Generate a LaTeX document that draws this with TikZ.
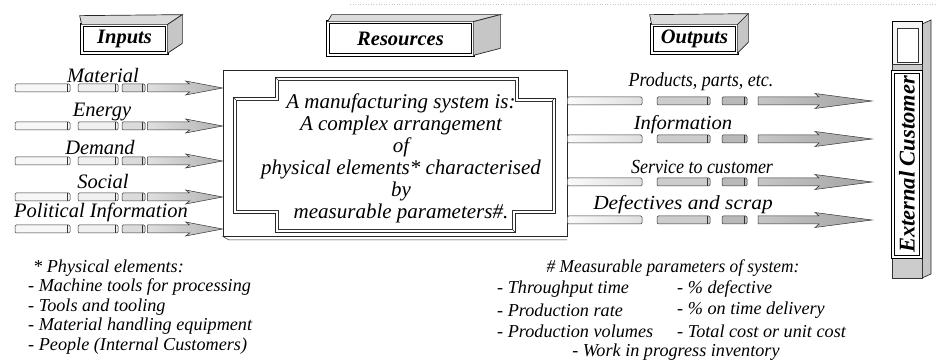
\documentclass[tikz,border=0pt]{standalone}
\usepackage{fontspec}
\setmainfont{Liberation Serif}
\usepackage{graphicx}
\usetikzlibrary{calc}

% one segment of a rod: left x, right x, centre y, fill
\newcommand\rodpiece[4]{%
  \draw[rodline, fill=#4] (#1,#3-4) rectangle (#2,#3+4);
  \draw[capline] (#2-3,#3-4) -- (#2-3,#3+4);
}
% top and right faces of a solid title block
\newcommand\tagsolid[5]{%
  \draw[faceline, fill=gray!28] (#1.north west) -- ++(#2,#3) -- ($(#1.north east)+(#4,#5)$) -- (#1.north east) -- cycle;
  \draw[faceline, fill=gray!45] (#1.north east) -- ++(#4,#5) -- ($(#1.south east)+(#4,#5)$) -- (#1.south east) -- cycle;
}

\begin{document}
\begin{tikzpicture}[x=1pt,y=-1pt,
  faceline/.style={draw=black!85, line width=0.7pt},
  rodline/.style={draw=black!80, line width=0.5pt, rounded corners=1.2pt},
  capline/.style={draw=black!80, line width=0.5pt},
  panelline/.style={draw=black!85, line width=0.7pt},
  flowlabel/.style={font=\fontsize{20.5}{22}\selectfont\itshape, inner sep=0pt},
  outlabel/.style={font=\fontsize{20}{22}\selectfont\itshape, inner sep=0pt},
  note/.style={font=\fontsize{18.2}{19}\selectfont\itshape, inner sep=0pt, anchor=west},
  maintext/.style={font=\fontsize{21}{22}\selectfont\itshape, align=center, inner sep=0pt},
  tagbox/.style={draw=black, line width=0.7pt, double, double distance=2pt, fill=white,
    inner sep=0pt, font=\fontsize{20.5}{22}\selectfont\bfseries\itshape},
  inhead/.style={draw=black!80, line width=0.5pt, left color=gray!25, right color=gray!60},
  outhead/.style={draw=black!80, line width=0.5pt, left color=gray!45, right color=gray!72},
]
\useasboundingbox (0,0) rectangle (938,363);

% faint edge of the scanned page
\draw[gray!45, line width=0.7pt, dash pattern=on 1pt off 1.6pt] (350,4) -- (938,4);

% ---- title blocks ----
\node[tagbox, minimum width=85, minimum height=28] (tin) at (124.5,39) {Inputs};
\tagsolid{tin}{-2}{-9}{15}{-10}
\node[tagbox, minimum width=145, minimum height=33] (tres) at (400.5,38.5) {Resources};
\tagsolid{tres}{4}{-7}{27}{-7}
\node[tagbox, minimum width=85, minimum height=28] (tout) at (694.5,39) {Outputs};
\tagsolid{tout}{-2}{-10}{11}{-11}

% ---- manufacturing system ----
\node[draw=black!85, line width=0.8pt, minimum width=344, minimum height=166, inner sep=0pt] (sys) at (395,153) {};
\draw[capline] (sys.south west) -- (229,240) -- (567,240);
% raised inner panel: outer and inset outlines
\draw[panelline] (233,97) -- (275,97) -- (275,77) -- (518,77) -- (518,98) -- (555,98) -- (555,213)
  -- (515,213) -- (515,232) -- (275,232) -- (275,213) -- (233,213) -- cycle;
\draw[capline] (236,100) -- (278,100) -- (278,80) -- (515,80) -- (515,101) -- (552,101) -- (552,210)
  -- (512,210) -- (512,229) -- (278,229) -- (278,210) -- (236,210) -- cycle;
\draw[capline] (275,77) -- (278,80) (233,97) -- (236,100) (555,98) -- (552,101) (515,232) -- (512,229);
\node[maintext] (desc) at (401,158) {A manufacturing system is:\\A complex arrangement\\of\\physical elements* characterised\\by\\measurable parameters\#.};

% ---- inputs ----
\node[flowlabel] (lmat) at (103,75) {Material};
\node[flowlabel] (leng) at (102,112) {Energy};
\node[flowlabel] (ldem) at (100,147) {Demand};
\node[flowlabel] (lsoc) at (103,181) {Social};
\node[flowlabel] (lpol) at (101,212) {Political Information};
\foreach \y/\n in {88/1,126/2,161/3,197/4,229/5}{
  \rodpiece{15}{70}{\y}{gray!6}
  \rodpiece{78}{118}{\y}{gray!12}
  \rodpiece{122}{145}{\y}{gray!28}
  \coordinate (in\n) at (sys.west |- 0,\y);
  \draw[inhead] (in\n) -- ++(-37,-7) -- ++(4,3) -- ++(-42,0) -- ++(0,8) -- ++(42,0) -- ++(-4,3) -- cycle;
}

% ---- outputs ----
\node[outlabel] (lprod) at (701,82) {\scalebox{0.9}[1]{Products, parts, etc.}};
\node[outlabel] (linfo) at (683,125) {\scalebox{1.03}[1]{Information}};
\node[outlabel] (lserv) at (702,167) {\scalebox{0.9}[1]{Service to customer}};
\node[outlabel] (ldef) at (683,205) {\scalebox{1.07}[1]{Defectives and scrap}};
\foreach \y/\n in {101/1,139/2,182/3,220/4}{
  \coordinate (src\n) at (sys.east |- 0,\y);
  \draw[rodline, left color=gray!4, right color=gray!25] (src\n) ++(0,-4) rectangle (642,\y+4);
  \rodpiece{657}{710}{\y}{gray!40}
  \rodpiece{722}{747}{\y}{gray!55}
  \coordinate (dst\n) at (872,\y);
  \draw[outhead] (dst\n) -- ++(-57,-7.5) -- ++(4,3.5) -- ++(-61,0) -- ++(0,8) -- ++(61,0) -- ++(-4,3.5) -- cycle;
}

% ---- external customer ----
\draw[faceline, fill=gray!45] (922,24) -- (931,20) -- (931,274) -- (922,278) -- cycle;
\draw[draw=black, line width=1pt, fill=gray!8] (892,22) rectangle (922,278);
\draw[capline, fill=white] (897,28) rectangle (918,62);
\draw[capline, fill=gray!40] (892,64) rectangle (922,72);
\draw[capline, fill=gray!40] (892,257) rectangle (922,278);
\node[tagbox, font=\fontsize{22.5}{24}\selectfont\bfseries\itshape, rotate=90,
      minimum width=185, minimum height=28] (cust) at (907,164.5) {External Customer};

% ---- notes ----
\node[note] (pe0) at (33,268) {* Physical elements:};
\node[note] (pe1) at (28,287.5) {- Machine tools for processing};
\node[note] (pe2) at (28,307) {- Tools and tooling};
\node[note] (pe3) at (28,326.5) {- Material handling equipment};
\node[note] (pe4) at (28,346) {- People (Internal Customers)};

\node[note, anchor=center] (mp0) at (673,268) {\scalebox{0.95}[1]{\# Measurable parameters of system:}};
\node[note] (mp1) at (497,289) {- Throughput time};
\node[note] (mp2) at (677,289) {- \% defective};
\node[note] (mp3) at (497,310) {- Production rate};
\node[note] (mp4) at (677,310) {- \% on time delivery};
\node[note] (mp5) at (497,331) {- Production volumes};
\node[note] (mp6) at (677,331) {- Total cost or unit cost};
\node[note, anchor=center] (mp7) at (676,352) {- Work in progress inventory};
\end{tikzpicture}
\end{document}
